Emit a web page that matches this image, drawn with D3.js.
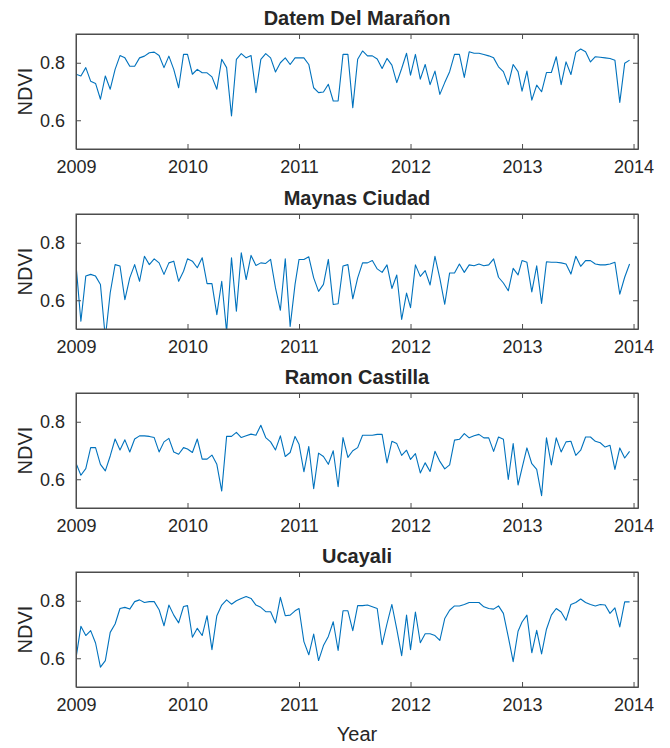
<!DOCTYPE html>
<html>
<head>
<meta charset="utf-8">
<script src="https://cdn.jsdelivr.net/npm/d3@7"></script>
<style>
  body { margin: 0; background: #fff; }
  text { font-family: "Liberation Sans", Arial, sans-serif; fill: #262626; }
</style>
</head>
<body>
<svg id="chart" width="670" height="748"></svg>
<script>
// ---------------- data (16-day NDVI composites, 23 per year, 2009-2013) ----------------
var titles = ["Datem Del Marañon", "Maynas Ciudad", "Ramon Castilla", "Ucayali"];
var yearTicks = [2009, 2010, 2011, 2012, 2013, 2014];
var ndviTicks = [0.6, 0.8];

var datem = [0.760,0.754,0.783,0.736,0.728,0.673,0.754,0.708,0.777,0.825,0.817,0.788,0.788,0.817,0.823,0.835,0.837,0.825,0.783,0.823,0.777,0.713,0.829,
  0.829,0.760,0.777,0.765,0.765,0.751,0.708,0.812,0.783,0.615,0.812,0.832,0.817,0.825,0.696,0.812,0.832,0.817,0.768,0.800,0.817,0.794,0.817,
  0.817,0.817,0.794,0.713,0.696,0.698,0.725,0.667,0.667,0.829,0.829,0.644,0.812,0.841,0.824,0.824,0.813,0.780,0.815,0.792,0.731,0.780,0.833,
  0.757,0.829,0.743,0.794,0.724,0.771,0.690,0.731,0.769,0.829,0.829,0.749,0.838,0.833,0.833,0.829,0.824,0.817,0.786,0.769,0.724,0.794,0.769,
  0.701,0.771,0.670,0.722,0.699,0.766,0.766,0.821,0.724,0.803,0.759,0.836,0.848,0.838,0.803,0.821,0.819,0.817,0.815,0.809,0.662,0.798,0.809];

var maynas = [0.724,0.527,0.684,0.690,0.684,0.655,0.469,0.626,0.724,0.719,0.602,0.678,0.724,0.666,0.753,0.724,0.744,0.730,0.690,0.730,0.736,0.666,0.701,
  0.744,0.736,0.713,0.748,0.658,0.658,0.550,0.666,0.490,0.748,0.562,0.765,0.672,0.756,0.721,0.730,0.728,0.742,0.643,0.565,0.744,0.509,0.655,
  0.742,0.742,0.751,0.678,0.631,0.655,0.742,0.585,0.588,0.719,0.724,0.605,0.678,0.730,0.730,0.738,0.709,0.697,0.723,0.641,0.688,0.533,0.625,
  0.574,0.723,0.683,0.703,0.653,0.753,0.676,0.586,0.695,0.695,0.726,0.697,0.723,0.720,0.726,0.720,0.723,0.744,0.680,0.660,0.633,0.711,0.688,
  0.738,0.732,0.629,0.720,0.589,0.734,0.732,0.732,0.730,0.726,0.691,0.753,0.718,0.738,0.738,0.726,0.723,0.723,0.726,0.732,0.621,0.680,0.726];

var ramon = [0.656,0.614,0.637,0.710,0.710,0.652,0.629,0.681,0.740,0.702,0.737,0.695,0.740,0.751,0.751,0.749,0.745,0.695,0.730,0.742,0.695,0.687,0.710,
  0.705,0.693,0.740,0.670,0.670,0.684,0.652,0.559,0.749,0.749,0.763,0.745,0.751,0.757,0.753,0.788,0.745,0.730,0.702,0.751,0.679,0.693,0.749,
  0.722,0.626,0.714,0.567,0.691,0.679,0.652,0.699,0.574,0.745,0.676,0.699,0.710,0.753,0.753,0.753,0.756,0.756,0.657,0.732,0.724,0.683,0.701,
  0.669,0.689,0.622,0.657,0.627,0.697,0.662,0.636,0.650,0.736,0.739,0.759,0.744,0.751,0.756,0.744,0.744,0.697,0.747,0.739,0.599,0.724,0.580,
  0.639,0.709,0.654,0.634,0.543,0.744,0.650,0.744,0.695,0.730,0.732,0.683,0.701,0.747,0.747,0.732,0.727,0.712,0.718,0.634,0.709,0.674,0.697];

var ucayali = [0.600,0.711,0.679,0.696,0.653,0.569,0.592,0.690,0.719,0.773,0.777,0.771,0.797,0.803,0.794,0.797,0.797,0.769,0.713,0.785,0.750,0.723,0.780,
  0.783,0.673,0.704,0.679,0.748,0.630,0.748,0.785,0.803,0.788,0.800,0.808,0.815,0.808,0.785,0.777,0.762,0.762,0.723,0.812,0.748,0.750,0.765,
  0.773,0.658,0.612,0.684,0.592,0.644,0.676,0.727,0.627,0.765,0.765,0.696,0.783,0.783,0.785,0.779,0.773,0.647,0.720,0.787,0.701,0.609,0.750,
  0.630,0.761,0.654,0.685,0.685,0.679,0.662,0.738,0.767,0.782,0.782,0.787,0.794,0.794,0.794,0.779,0.773,0.771,0.782,0.756,0.674,0.588,0.694,
  0.726,0.750,0.619,0.697,0.615,0.701,0.750,0.773,0.761,0.732,0.787,0.794,0.806,0.794,0.787,0.782,0.787,0.785,0.756,0.775,0.709,0.796,0.796];

var allSeries = [datem, maynas, ramon, ucayali];

// ---------------- layout ----------------
var svg = d3.select("#chart");
var left = 76, right = 638, panelH = 115;
var panelTops = [34, 214, 393, 572];
var lineColor = "#0072BD", axisColor = "#4d4d4d";

// decimal year of each composite (day 1, 17, 33, ...)
function dateOf(i) {
    return 2009 + Math.floor(i / 23) + (i % 23) * 16 / 365;
}

var x = d3.scaleLinear().domain([2009, 2014.04]).range([left, right]);

allSeries.forEach(function (series, p) {
    var top = panelTops[p];
    var y = d3.scaleLinear().domain([0.5, 0.9]).range([top + panelH, top]);
    var g = svg.append("g");

    // clip so dips below 0.5 are cut at the axis box like matlab
    g.append("clipPath").attr("id", "clip" + p)
        .append("rect").attr("x", left).attr("y", top).attr("width", right - left).attr("height", panelH);

    var line = d3.line()
        .x(function (d, i) { return x(dateOf(i)); })
        .y(function (d) { return y(d); });

    g.append("path")
        .datum(series)
        .attr("clip-path", "url(#clip" + p + ")")
        .attr("fill", "none")
        .attr("stroke", lineColor)
        .attr("stroke-width", 1.1)
        .attr("stroke-linejoin", "round")
        .attr("d", line);

    // bottom axis, ticks pointing inward
    var xb = g.append("g").attr("transform", "translate(0," + (top + panelH) + ")")
        .call(d3.axisBottom(x).tickValues(yearTicks).tickFormat(d3.format("d")).tickSizeInner(-5).tickSizeOuter(0).tickPadding(11));
    // top axis (box on)
    var xt = g.append("g").attr("transform", "translate(0," + top + ")")
        .call(d3.axisTop(x).tickValues(yearTicks).tickFormat("").tickSizeInner(-5).tickSizeOuter(0));
    // left axis
    var yl = g.append("g").attr("transform", "translate(" + left + ",0)")
        .call(d3.axisLeft(y).tickValues(ndviTicks).tickFormat(d3.format(".1f")).tickSizeInner(-5).tickSizeOuter(0).tickPadding(11));
    // right axis
    var yr = g.append("g").attr("transform", "translate(" + right + ",0)")
        .call(d3.axisRight(y).tickValues(ndviTicks).tickFormat("").tickSizeInner(-5).tickSizeOuter(0));

    [xb, xt, yl, yr].forEach(function (a) {
        a.select(".domain").attr("stroke", axisColor);
        a.selectAll(".tick line").attr("stroke", axisColor);
        a.selectAll("text").style("font-size", "18px").attr("fill", "#262626")
            .style("font-family", "'Liberation Sans', Arial, sans-serif");
    });
    // make sure the box closes at x = 2014.04
    g.append("rect").attr("x", left).attr("y", top).attr("width", right - left).attr("height", panelH)
        .attr("fill", "none").attr("stroke", axisColor).attr("stroke-width", 1);

    // title
    g.append("text")
        .attr("x", (left + right) / 2).attr("y", top - 9)
        .attr("text-anchor", "middle")
        .style("font-size", "20px").style("font-weight", "bold")
        .attr("fill", "#000")
        .text(titles[p]);

    // y label
    g.append("text")
        .attr("transform", "translate(32," + (top + panelH / 2) + ") rotate(-90)")
        .attr("text-anchor", "middle")
        .style("font-size", "20px")
        .text("NDVI");
});

// x label under last panel
svg.append("text")
    .attr("x", (left + right) / 2).attr("y", 741)
    .attr("text-anchor", "middle")
    .style("font-size", "20px")
    .text("Year");
</script>
</body>
</html>
